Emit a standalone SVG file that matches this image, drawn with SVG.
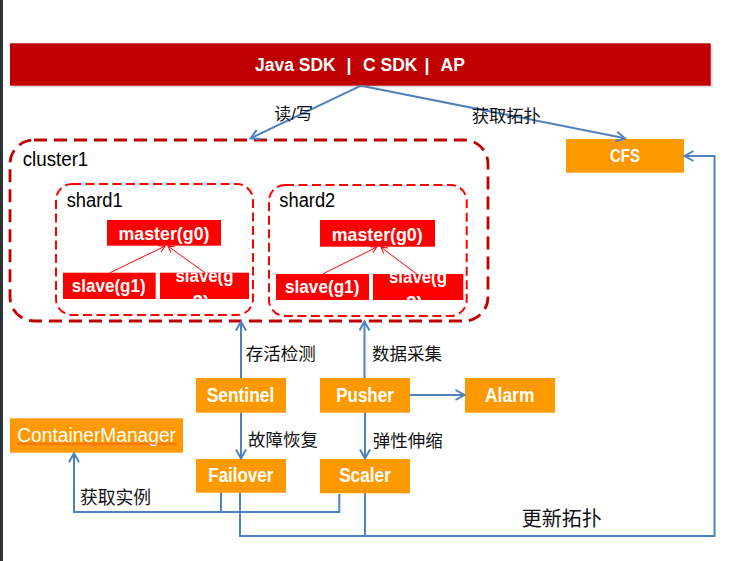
<svg xmlns="http://www.w3.org/2000/svg" width="739" height="561" viewBox="0 0 739 561">
<style>
  .lbl{font-family:"Liberation Sans",Arial,sans-serif;font-weight:bold;fill:#fff;text-anchor:middle}
  .blk{font-family:"Liberation Sans",Arial,sans-serif;fill:#000}
  .cjk{font-family:"Liberation Sans","Noto Sans CJK SC",sans-serif;fill:#111}
  .org{fill:#ff9900}
  .red{fill:#ff0000}
  .bl{fill:none;stroke:#4f81bd;stroke-width:2}
  .rl{fill:none;stroke:#ff0000;stroke-width:1}
</style>
<defs>
  <marker id="ab" markerUnits="userSpaceOnUse" markerWidth="14" markerHeight="14" refX="10" refY="6" orient="auto">
    <path d="M1,1 L10,6 L1,11" fill="none" stroke="#4f81bd" stroke-width="2"/>
  </marker>
  <marker id="ar" markerUnits="userSpaceOnUse" markerWidth="10" markerHeight="10" refX="7" refY="4" orient="auto">
    <path d="M1,0.5 L7,4 L1,7.5" fill="none" stroke="#ff0000" stroke-width="1"/>
  </marker>
  <clipPath id="c1"><rect x="160" y="272.7" width="89" height="26.3"/></clipPath>
  <clipPath id="c2"><rect x="373" y="274" width="90.3" height="26"/></clipPath>
  <pattern id="sq" x="0" y="442.5" width="4" height="3" patternUnits="userSpaceOnUse">
    <path d="M0,2.5 L2,0.5 L4,2.5" fill="none" stroke="#e02020" stroke-width="0.8"/>
  </pattern>
</defs>
<rect width="739" height="561" fill="#fff"/>
<rect x="0" y="0" width="3" height="561" fill="#2e3338"/>

<g id="header">
  <rect x="12" y="45.5" width="700.7" height="42" fill="#cfcfcf" opacity="0.7"/>
  <rect x="10" y="43.3" width="700.7" height="42.4" fill="#c00000"/>
  <text class="lbl" style="text-anchor:start" font-size="17.5" y="71"><tspan x="255">Java SDK</tspan><tspan x="346.5">|</tspan><tspan x="363">C SDK</tspan><tspan x="424.5">|</tspan><tspan x="440.5">AP</tspan></text>
</g>

<g id="cluster1">
  <rect x="10" y="140" width="478" height="181" rx="24" fill="none" stroke="#c00000" stroke-width="2.8" stroke-dasharray="13 7"/>
  <text class="blk" x="22.7" y="166" font-size="19.5" textLength="65.6" lengthAdjust="spacingAndGlyphs">cluster1</text>
</g>

<g id="shard1">
  <rect x="56" y="184" width="197" height="131" rx="16" fill="none" stroke="#ff0000" stroke-width="2" stroke-dasharray="9 4.5"/>
  <text class="blk" x="66.7" y="206.7" font-size="19.5" textLength="56" lengthAdjust="spacingAndGlyphs">shard1</text>
</g>
<g id="shard1-master">
  <rect class="red" x="107" y="220" width="114" height="25.7"/>
  <text class="lbl" x="164" y="240" font-size="19" textLength="91" lengthAdjust="spacingAndGlyphs">master(g0)</text>
</g>
<g id="shard1-slave1">
  <rect class="red" x="63" y="272.7" width="92.7" height="26.3"/>
  <text class="lbl" x="108.7" y="292" font-size="19" textLength="74" lengthAdjust="spacingAndGlyphs">slave(g1)</text>
</g>
<g id="shard1-slave2">
  <rect class="red" x="160" y="272.7" width="89" height="26.3"/>
  <text class="lbl" font-size="19" clip-path="url(#c1)"><tspan x="204.5" y="281.7" textLength="58" lengthAdjust="spacingAndGlyphs">slave(g</tspan><tspan x="201" y="308">2)</tspan></text>
</g>

<g id="shard2">
  <rect x="269" y="185" width="197.7" height="131" rx="16" fill="none" stroke="#ff0000" stroke-width="2" stroke-dasharray="9 4.5"/>
  <text class="blk" x="279.3" y="207.3" font-size="19.5" textLength="56" lengthAdjust="spacingAndGlyphs">shard2</text>
</g>
<g id="shard2-master">
  <rect class="red" x="320" y="220" width="115" height="26.7"/>
  <text class="lbl" x="377.2" y="240.5" font-size="19" textLength="91" lengthAdjust="spacingAndGlyphs">master(g0)</text>
</g>
<g id="shard2-slave1">
  <rect class="red" x="276" y="274" width="93" height="26"/>
  <text class="lbl" x="322.2" y="293" font-size="19" textLength="74.3" lengthAdjust="spacingAndGlyphs">slave(g1)</text>
</g>
<g id="shard2-slave2">
  <rect class="red" x="373" y="274" width="90.3" height="26"/>
  <text class="lbl" font-size="19" clip-path="url(#c2)"><tspan x="418" y="283" textLength="58" lengthAdjust="spacingAndGlyphs">slave(g</tspan><tspan x="414.5" y="309">2)</tspan></text>
</g>

<g id="cfs">
  <rect class="org" x="566" y="139" width="118" height="33.7"/>
  <text class="lbl" x="625" y="161.7" font-size="19" textLength="30" lengthAdjust="spacingAndGlyphs">CFS</text>
</g>
<g id="sentinel">
  <rect class="org" x="196" y="378" width="90" height="34.7"/>
  <text class="lbl" x="240.5" y="401.7" font-size="19.5" textLength="67.7" lengthAdjust="spacingAndGlyphs">Sentinel</text>
</g>
<g id="pusher">
  <rect class="org" x="320" y="378" width="90" height="34.7"/>
  <text class="lbl" x="365" y="401.7" font-size="19.5" textLength="57.5" lengthAdjust="spacingAndGlyphs">Pusher</text>
</g>
<g id="alarm">
  <rect class="org" x="465" y="378" width="90" height="34.7"/>
  <text class="lbl" x="509.7" y="401.7" font-size="19.5" textLength="49.3" lengthAdjust="spacingAndGlyphs">Alarm</text>
</g>
<g id="containermanager">
  <rect class="org" x="10" y="418.3" width="173" height="34.4"/>
  <text class="lbl" style="font-weight:normal" x="96.6" y="441.8" font-size="19.5" textLength="158.7" lengthAdjust="spacingAndGlyphs">ContainerManager</text>
  <rect x="17" y="442.5" width="160" height="3" fill="url(#sq)"/>
</g>
<g id="failover">
  <rect class="org" x="196" y="459" width="90" height="33.7"/>
  <text class="lbl" x="240.8" y="481.8" font-size="19.5" textLength="65" lengthAdjust="spacingAndGlyphs">Failover</text>
</g>
<g id="scaler">
  <rect class="org" x="320" y="459" width="90" height="34.3"/>
  <text class="lbl" x="365" y="482.3" font-size="19.5" textLength="51.7" lengthAdjust="spacingAndGlyphs">Scaler</text>
</g>

<g id="connectors">
  <line class="bl" x1="361" y1="85.7" x2="250.7" y2="138.3" marker-end="url(#ab)"/>
  <line class="bl" x1="361" y1="85.7" x2="625" y2="138.3" marker-end="url(#ab)"/>
  <line class="rl" x1="110" y1="272.7" x2="165" y2="246.2" marker-end="url(#ar)"/>
  <line class="rl" x1="205" y1="272.7" x2="168" y2="246.2" marker-end="url(#ar)"/>
  <line class="rl" x1="322.7" y1="274" x2="376.7" y2="247.2" marker-end="url(#ar)"/>
  <line class="rl" x1="416.7" y1="274" x2="381" y2="247.2" marker-end="url(#ar)"/>
  <line class="bl" x1="241" y1="378" x2="241" y2="321.5" marker-end="url(#ab)"/>
  <line class="bl" x1="364.5" y1="378" x2="364.5" y2="321.5" marker-end="url(#ab)"/>
  <line class="bl" x1="241" y1="412.7" x2="241" y2="458.5" marker-end="url(#ab)"/>
  <line class="bl" x1="365" y1="412.7" x2="365" y2="458.5" marker-end="url(#ab)"/>
  <line class="bl" x1="410" y1="395" x2="464.5" y2="395" marker-end="url(#ab)"/>
  <polyline class="bl" points="339.3,494 339.3,512 74,512 74,453.2" marker-end="url(#ab)"/>
  <line class="bl" x1="221" y1="492.7" x2="221" y2="513"/>
  <polyline class="bl" points="240,492.7 240,536 714.5,536 714.5,156 684.5,156" marker-end="url(#ab)"/>
  <line class="bl" x1="365" y1="493.3" x2="365" y2="536"/>
  <text class="cjk" x="274.3" y="119.5" font-size="17">读/写</text>
  <text class="cjk" x="471.7" y="121.5" font-size="17.3">获取拓扑</text>
  <text class="cjk" x="245.7" y="359.5" font-size="17.5">存活检测</text>
  <text class="cjk" x="372" y="359.5" font-size="17.5">数据采集</text>
  <text class="cjk" x="248" y="445.5" font-size="17.5">故障恢复</text>
  <text class="cjk" x="372.7" y="447" font-size="17.5">弹性伸缩</text>
  <text class="cjk" x="80" y="503.8" font-size="17.8">获取实例</text>
  <text class="cjk" x="521.7" y="525.5" font-size="20">更新拓扑</text>
</g>
</svg>
